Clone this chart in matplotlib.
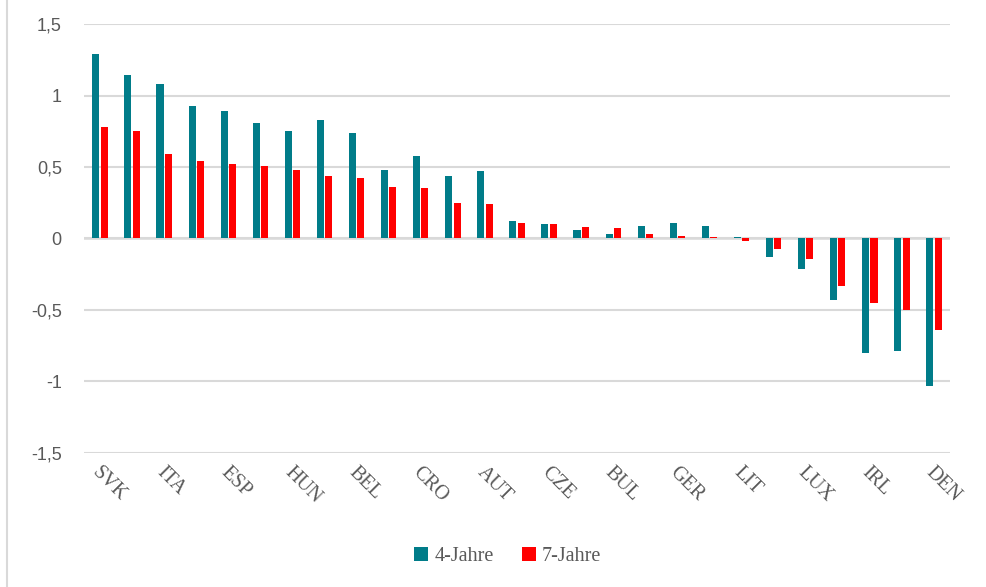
import matplotlib
matplotlib.use("Agg")
import matplotlib.pyplot as plt
import numpy as np
from matplotlib.lines import Line2D

# only every second country is labelled in the original
labels = ["SVK", "", "ITA", "", "ESP", "", "HUN", "", "BEL", "", "CRO", "", "AUT", "",
          "CZE", "", "BUL", "", "GER", "", "LIT", "", "LUX", "", "IRL", "", "DEN"]
jahre4 = [1.29, 1.14, 1.08, 0.93, 0.89, 0.81, 0.75, 0.83, 0.74, 0.48, 0.58, 0.44, 0.47, 0.12,
          0.10, 0.06, 0.03, 0.09, 0.11, 0.09, 0.01, -0.13, -0.21, -0.43, -0.80, -0.79, -1.03]
jahre7 = [0.78, 0.75, 0.59, 0.54, 0.52, 0.51, 0.48, 0.44, 0.42, 0.36, 0.35, 0.25, 0.24, 0.11,
          0.10, 0.08, 0.07, 0.03, 0.02, 0.01, -0.02, -0.07, -0.14, -0.33, -0.45, -0.50, -0.64]
yticks = [-1.5, -1, -0.5, 0, 0.5, 1, 1.5]
ytick_labels = ["-1,5", "-1", "-0,5", "0", "0,5", "1", "1,5"]

teal = "#007C89"
red = "#FF0000"
grid = "#D9D9D9"
txt = "#595959"

fig = plt.figure(figsize=(9.86, 5.87), dpi=100)
ax = fig.add_axes([0.0852, 0.2283, 0.8783, 0.7308])

x = np.arange(len(labels))
w = 0.22
ax.bar(x - 0.13, jahre4, w, color=teal, label="4-Jahre", zorder=3)
ax.bar(x + 0.13, jahre7, w, color=red, label="7-Jahre", zorder=3)

ax.set_xlim(-0.5, len(labels) - 0.5)
ax.set_ylim(-1.5, 1.5)
ax.set_yticks(yticks)
ax.set_yticklabels(ytick_labels, fontsize=13, color=txt, family="Liberation Sans")
ax.yaxis.grid(True, color=grid, linewidth=1.5, zorder=0)
ax.axhline(0, color=grid, linewidth=1.8, zorder=2)
ax.tick_params(axis="both", length=0)
ax.tick_params(axis="y", pad=16)
for s in ax.spines.values():
    s.set_visible(False)

ax.set_xticks(x)
ax.set_xticklabels([])
for i, lab in enumerate(labels):
    if lab:
        ax.text(i + 0.05, -1.57, lab, rotation=-45, rotation_mode="anchor",
                ha="left", va="top", fontsize=14.5, color=txt, family="Liberation Serif")

leg = fig.legend(loc="center", bbox_to_anchor=(0.515, 0.052), ncol=2, frameon=False,
                 handlelength=0.7, handleheight=0.7, handletextpad=0.3, columnspacing=1.4,
                 prop={"family": "Liberation Serif", "size": 14.5})
for t in leg.get_texts():
    t.set_color(txt)

fig.add_artist(Line2D([0.007, 0.007], [0, 1], color=grid, linewidth=1.5))

fig.savefig("out.png", dpi=100)
